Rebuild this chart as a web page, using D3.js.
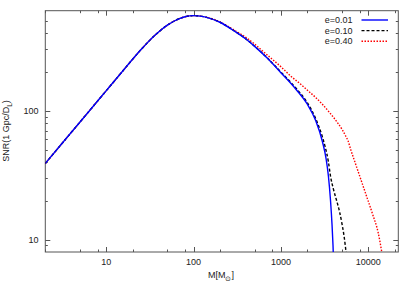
<!DOCTYPE html>
<html><head><meta charset="utf-8">
<script src="https://cdn.jsdelivr.net/npm/d3@7/dist/d3.min.js"></script>
<style>body{margin:0;background:#fff}svg{display:block}text{font-family:"Liberation Sans Narrow","Liberation Sans",Arial,sans-serif}</style>
</head><body>
<script>
const massE001 = [2,3,5,7,10,15,20,25,30,35,40,50,60,70,80,90,100,120,150,200,300,400,500,700,1000,1500,2000,2500,3000,3300,3500,3700,3850,3950,4050];
const snrE001  = [39,54.2,81.9,107.6,143.6,199.4,251.8,299.5,342,379.6,411.7,463,499,523.6,538.8,546.8,549,544,526,488,412,360,317,256,198,146,113,84,57,42,31,20,13,9,5.5];
const massE010 = [2,3,5,7,10,15,20,25,30,35,40,50,60,70,80,90,100,120,150,200,300,400,500,700,1000,1500,2000,2500,3000,3200,3500,3700,4000,4350,4700,5000,5300,5570,5800];
const snrE010  = [39,54.2,81.9,107.6,143.6,199.4,251.8,299.5,342,379.6,411.7,463,499,523.6,538.8,546.8,549,544,526,488,413,361,318,257,200,149,116,87,62,53,40,31,24.5,20,16.4,13.3,10.5,8,6.3];
const massE040 = [2,3,5,7,10,15,20,25,30,35,40,50,60,70,80,90,100,120,150,200,300,400,500,700,1000,1300,1700,2000,2500,3000,3650,4000,4500,5000,5500,5900,6300,6750,8000,9500,11200,13000,14200,15000];
const snrE040  = [39,54.2,81.9,107.6,143.6,199.4,251.8,299.5,342,379.6,411.7,463,499,523.6,538.8,546.8,549.5,545,528,491,419,371,330,271,220,186,160,145,127,112,96,89,80,72,64,58,50,43.5,31,22,15.8,11.3,8.2,6.5];
const seriesNames = ["e=0.01","e=0.10","e=0.40"];
const xMajor = [10,100,1000,10000];
const xMinor = [2,5,8,20,50,80,200,500,800,2000,5000,8000,20000];
const yMajor = [10,100];
const yMinor = [9,20,30,40,50,60,70,80,90,200,300,400,500];

const W=415,H=291, L=45.3, R=398.3, T=10.7, B=252;
const svg=d3.select("body").append("svg").attr("width",W).attr("height",H);
const x=d3.scaleLog().domain([2,22100]).range([L,R]);
const y=d3.scaleLog().domain([8,600]).range([B,T]);

svg.append("defs").append("clipPath").attr("id","c").append("rect")
  .attr("x",L).attr("y",T).attr("width",R-L).attr("height",B-T);

const axisCol="#555";
const g=svg.append("g").attr("stroke",axisCol).attr("stroke-width",1);
xMajor.forEach(v=>{const px=Math.round(x(v))+0.5;
  g.append("line").attr("x1",px).attr("x2",px).attr("y1",B).attr("y2",B-5);
  g.append("line").attr("x1",px).attr("x2",px).attr("y1",T).attr("y2",T+5);});
xMinor.forEach(v=>{const px=Math.round(x(v))+0.5;
  g.append("line").attr("x1",px).attr("x2",px).attr("y1",B).attr("y2",B-2.5);
  g.append("line").attr("x1",px).attr("x2",px).attr("y1",T).attr("y2",T+2.5);});
yMajor.forEach(v=>{const py=Math.round(y(v))+0.5;
  g.append("line").attr("x1",L).attr("x2",L+5).attr("y1",py).attr("y2",py);
  g.append("line").attr("x1",R).attr("x2",R-5).attr("y1",py).attr("y2",py);});
yMinor.forEach(v=>{const py=Math.round(y(v))+0.5;
  g.append("line").attr("x1",L).attr("x2",L+2.5).attr("y1",py).attr("y2",py);
  g.append("line").attr("x1",R).attr("x2",R-2.5).attr("y1",py).attr("y2",py);});
g.append("rect").attr("x",L).attr("y",T).attr("width",R-L).attr("height",B-T).attr("fill","none");

const FS=9;
const fmt=d3.format("d");
xMajor.forEach(v=>svg.append("text").attr("x",x(v)).attr("y",261.7).attr("dy","0.35em")
  .attr("text-anchor","middle").attr("font-size",FS).attr("fill","#222").text(fmt(v)));
yMajor.forEach(v=>svg.append("text").attr("x",38.5).attr("y",y(v)).attr("dy","0.35em")
  .attr("text-anchor","end").attr("font-size",FS).attr("fill","#222").text(fmt(v)));

const xl=svg.append("text").attr("x",221).attr("y",275).attr("dy","0.35em")
  .attr("text-anchor","middle").attr("font-size",FS).attr("fill","#222");
xl.append("tspan").text("M[M");
xl.append("tspan").attr("font-size",6.5).attr("dy","2.5").text("⊙");
xl.append("tspan").attr("dy","-2.5").text("]");

const yl=svg.append("text").attr("transform","translate(9,131) rotate(-90)")
  .attr("text-anchor","middle").attr("font-size",FS).attr("fill","#222");
yl.append("tspan").text("SNR(1 Gpc/D");
yl.append("tspan").attr("font-size",6.5).attr("dy","2.5").text("L");
yl.append("tspan").attr("dy","-2.5").text(")");

const line=d3.line().x(d=>x(d[0])).y(d=>y(d[1])).curve(d3.curveMonotoneX);
const series=[
  {m:massE040,s:snrE040,col:"#ff0000",dash:"1.5,1.5"},
  {m:massE010,s:snrE010,col:"#000000",dash:"3,2"},
  {m:massE001,s:snrE001,col:"#0000ff",dash:null},
];
const pg=svg.append("g").attr("clip-path","url(#c)");
series.forEach(sr=>{
  const p=pg.append("path").datum(sr.m.map((m,i)=>[m,sr.s[i]])).attr("d",line)
   .attr("fill","none").attr("stroke",sr.col).attr("stroke-width",1.4);
  if(sr.dash) p.attr("stroke-dasharray",sr.dash);
});

const leg=[{col:"#0000ff",dash:null},{col:"#000000",dash:"3,2"},{col:"#ff0000",dash:"1.5,1.5"}];
seriesNames.forEach((n,i)=>{
  const yy=20+i*10.6;
  svg.append("text").attr("x",352.5).attr("y",yy).attr("dy","0.35em").attr("text-anchor","end")
    .attr("font-size",FS).attr("fill","#222").text(n);
  const l=svg.append("line").attr("x1",361.5).attr("x2",388).attr("y1",yy).attr("y2",yy)
    .attr("stroke",leg[i].col).attr("stroke-width",1.4);
  if(leg[i].dash) l.attr("stroke-dasharray",leg[i].dash);
});
</script>
</body></html>
